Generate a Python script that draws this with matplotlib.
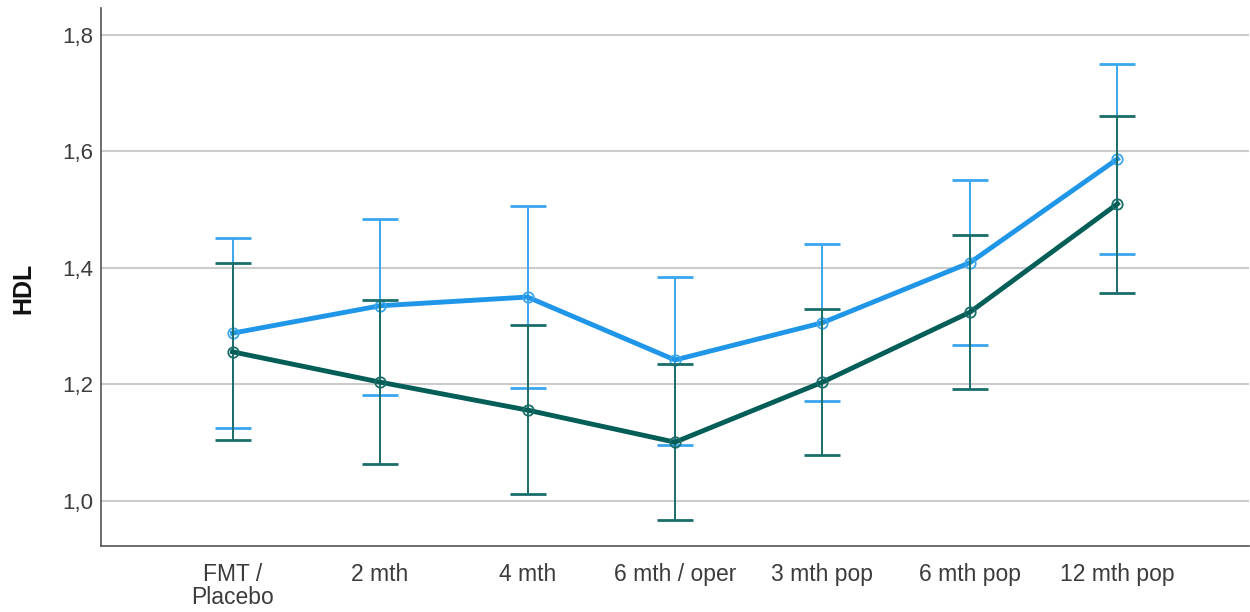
import matplotlib.pyplot as plt
import numpy as np

# timepoints on the x axis
categories = ['FMT /\nPlacebo', '2 mth', '4 mth', '6 mth / oper',
              '3 mth pop', '6 mth pop', '12 mth pop']

# group 1 (light blue): means and 95% CI bounds
blue_mean = [1.288, 1.335, 1.350, 1.242, 1.306, 1.409, 1.587]
blue_upper = [1.452, 1.484, 1.506, 1.385, 1.441, 1.551, 1.750]
blue_lower = [1.125, 1.182, 1.194, 1.096, 1.172, 1.268, 1.424]

# group 2 (dark teal): means and 95% CI bounds
dark_mean = [1.256, 1.204, 1.156, 1.101, 1.204, 1.324, 1.510]
dark_upper = [1.409, 1.345, 1.302, 1.235, 1.330, 1.457, 1.661]
dark_lower = [1.105, 1.064, 1.012, 0.967, 1.079, 1.192, 1.357]

y_ticks = [1.0, 1.2, 1.4, 1.6, 1.8]

plt.rcParams['font.family'] = ['Liberation Sans', 'DejaVu Sans']

fig = plt.figure(figsize=(12.5, 6.12), dpi=100)
ax = fig.add_axes([0.081, 0.108, 0.918, 0.879])

x = np.arange(len(categories))


def draw_group(mean, lower, upper, line_color, bar_color, z):
    mean = np.array(mean)
    yerr = [mean - np.array(lower), np.array(upper) - mean]
    ax.errorbar(x, mean, yerr=yerr, fmt='none', ecolor=bar_color,
                elinewidth=1.4, capsize=13.3, capthick=2.0, zorder=z)
    ax.plot(x, mean, color=line_color, linewidth=3.5, zorder=z + 1)
    ax.plot(x, mean, linestyle='none', marker='o', markersize=7.5,
            markerfacecolor='none', markeredgecolor=bar_color,
            markeredgewidth=1.3, zorder=z + 2)


draw_group(blue_mean, blue_lower, blue_upper, '#1f96e8', '#3aa6ee', 3)
draw_group(dark_mean, dark_lower, dark_upper, '#035e58', '#1a6e6a', 6)

ax.set_xlim(-0.89, 6.89)
ax.set_ylim(0.923, 1.846)
ax.set_yticks(y_ticks)
ax.set_yticklabels([f'{t:.1f}'.replace('.', ',') for t in y_ticks])
ax.set_xticks(x)
ax.set_xticklabels(categories, linespacing=1.0)

ax.grid(axis='y', color='#cccccc', linewidth=1.5)
ax.set_axisbelow(True)
ax.tick_params(axis='both', length=0, labelsize=16, colors='#3c3c3c')
ax.tick_params(axis='y', pad=6)
ax.tick_params(axis='x', labelsize=16.5, pad=12)

for side in ['top', 'right']:
    ax.spines[side].set_visible(False)
for side in ['left', 'bottom']:
    ax.spines[side].set_color('#555555')
    ax.spines[side].set_linewidth(1.2)

ax.set_ylabel('HDL', fontsize=18, fontweight='bold', color='#111111')
ax.yaxis.set_label_coords(-0.0575, 0.478)

fig.savefig('out.png', dpi=100)
